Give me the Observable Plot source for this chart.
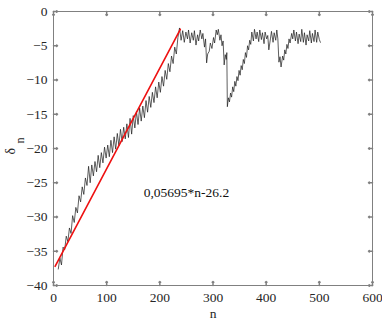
<!DOCTYPE html>
<html>
<head>
<meta charset="utf-8">
<script src="https://cdn.jsdelivr.net/npm/d3@7"></script>
<script src="https://cdn.jsdelivr.net/npm/@observablehq/plot@0.6"></script>
<style>
  html, body { margin: 0; padding: 0; background: #fff; }
  svg, svg text, svg g { font-family: "Liberation Serif", "Tinos", "DejaVu Serif", serif !important; }
</style>
</head>
<body>
<div id="chart"></div>
<script>
const xTicks = [0, 100, 200, 300, 400, 500, 600];
const yTicks = [-40, -35, -30, -25, -20, -15, -10, -5, 0];

const seriesN = [
  9,12,15,18,21,24,27,30,33,36,39,42,45,48,51,54,57,60,63,66,69,72,75,78,81,84,87,90,93,96,99,
  102,105,108,111,114,117,120,123,126,129,132,135,138,141,144,147,150,153,156,159,162,165,168,171,
  174,177,180,183,186,189,192,195,198,201,204,207,210,213,216,219,222,225,228,231,234,237,
  240,243,246,249,252,254,257,260,263,265,268,271,273,276,279,281,284,286,288,290,293,295,298,
  301,303,306,308,310,313,315,317,319,321,323,325,326,327,329,331,333,335,337,339,341,343,345,
  347,349,351,353,355,357,359,361,363,365,367,369,371,373,376,378,381,383,386,388,391,393,396,
  398,401,403,405,408,410,413,415,418,420,422,424,426,428,431,433,435,437,439,441,443,445,448,
  450,452,455,457,460,462,465,467,470,472,475,477,480,482,485,487,490,492,495,497,500,502
];
const seriesDelta = [
  -37.6,-36.0,-37.0,-34.4,-34.8,-32.8,-33.6,-31.6,-32.4,-29.8,-30.8,-28.6,-29.4,-26.9,-27.8,-25.6,
  -26.7,-24.3,-25.4,-22.6,-25.0,-22.4,-24.0,-21.9,-23.4,-21.0,-22.8,-20.6,-22.1,-19.8,-21.4,
  -19.5,-21.2,-18.8,-20.6,-18.3,-20.1,-17.8,-19.6,-17.2,-19.0,-16.9,-18.6,-16.4,-18.4,-15.6,-17.9,
  -15.2,-17.0,-14.6,-16.5,-14.1,-16.0,-13.8,-15.5,-13.0,-14.7,-12.4,-14.0,-11.8,-13.3,-11.0,-12.6,
  -10.3,-11.8,-9.5,-10.9,-8.6,-9.9,-7.6,-8.8,-6.5,-7.6,-5.2,-6.2,-3.8,-2.4,
  -4.2,-2.8,-4.5,-3.0,-4.0,-2.7,-4.6,-3.1,-4.2,-2.8,-4.9,-3.4,-4.3,-2.7,-4.0,-3.2,-5.2,-4.0,-7.5,
  -6.2,-5.8,-4.6,-5.4,-3.8,-4.6,-2.7,-3.4,-2.6,-4.2,-3.4,-5.0,-4.3,-7.8,-6.3,-7.0,-6.0,-13.9,
  -12.6,-13.2,-11.9,-12.5,-11.0,-11.7,-10.2,-10.9,-9.5,-10.1,-8.6,-9.3,-7.9,-8.5,-7.0,-7.6,-6.0,
  -6.7,-5.0,-5.6,-4.2,-4.8,-3.0,-4.3,-2.6,-4.0,-3.0,-4.4,-2.7,-4.1,-3.1,-4.7,-3.0,-4.0,-3.5,-5.6,
  -4.0,-2.9,-4.5,-3.1,-4.2,-2.7,-4.0,-7.4,-6.6,-8.1,-6.5,-7.1,-5.6,-6.2,-4.8,-5.4,-4.0,-4.6,-3.2,
  -4.0,-2.7,-4.3,-3.0,-4.7,-3.3,-4.4,-2.6,-4.5,-3.1,-4.9,-3.4,-4.3,-2.8,-4.6,-3.2,-4.4,-2.7,-4.5,
  -3.0,-4.1,-4.5
];

const fitN = [3, 238.5];
const fitDelta = [-37.2, -2.6];

const annotationText = "0,05695*n-26.2";
const annotationN = 250;
const annotationDelta = -26.4;

const series = seriesN.map((n, i) => ({n, d: seriesDelta[i]}));
const fit = fitN.map((n, i) => ({n, d: fitDelta[i]}));

const axisColor = "#808080";
const textColor = "#262626";
const font = "Liberation Serif";

const chart = Plot.plot({
  width: 382,
  height: 324,
  marginLeft: 53,
  marginRight: 10,
  marginTop: 11,
  marginBottom: 39,
  x: {domain: [0, 600]},
  y: {domain: [-40, 0]},
  style: {fontFamily: font, fontSize: "13.5px", color: textColor, background: "#fff"},
  marks: [
    Plot.frame({stroke: axisColor}),
    Plot.axisX(xTicks, {tickSize: 0, tickPadding: 7, label: null, fontSize: 13.5, fontFamily: font, fill: textColor}),
    Plot.axisY(yTicks, {tickSize: 0, tickPadding: 6, label: null, fontSize: 13.5, fontFamily: font, fill: textColor}),
    Plot.vectorX(xTicks, {x: d => d, frameAnchor: "bottom", length: 4, rotate: 0, anchor: "start", stroke: axisColor}),
    Plot.vectorX(xTicks, {x: d => d, frameAnchor: "top", length: 4, rotate: 180, anchor: "start", stroke: axisColor}),
    Plot.vectorY(yTicks, {y: d => d, frameAnchor: "left", length: 4, rotate: 90, anchor: "start", stroke: axisColor}),
    Plot.vectorY(yTicks, {y: d => d, frameAnchor: "right", length: 4, rotate: -90, anchor: "start", stroke: axisColor}),
    Plot.line(series, {x: "n", y: "d", stroke: "#1a1a1a", strokeWidth: 0.7}),
    Plot.line(fit, {x: "n", y: "d", stroke: "#ee1111", strokeWidth: 1.6}),
    Plot.text([annotationText], {x: annotationN, y: annotationDelta, text: d => d, fontSize: 13.5, fontFamily: font, fill: "#111"}),
    Plot.text(["n"], {frameAnchor: "bottom", dy: 32, text: d => d, fontSize: 13.5, fontFamily: font, fill: textColor}),
    Plot.text(["δ"], {frameAnchor: "left", dx: -43, dy: 6, rotate: -90, text: d => d, fontSize: 14, fontFamily: font, fill: textColor}),
    Plot.text(["n"], {frameAnchor: "left", dx: -33, dy: -5, rotate: -90, text: d => d, fontSize: 12, fontFamily: font, fill: textColor})
  ]
});

document.getElementById("chart").appendChild(chart);
</script>
</body>
</html>
